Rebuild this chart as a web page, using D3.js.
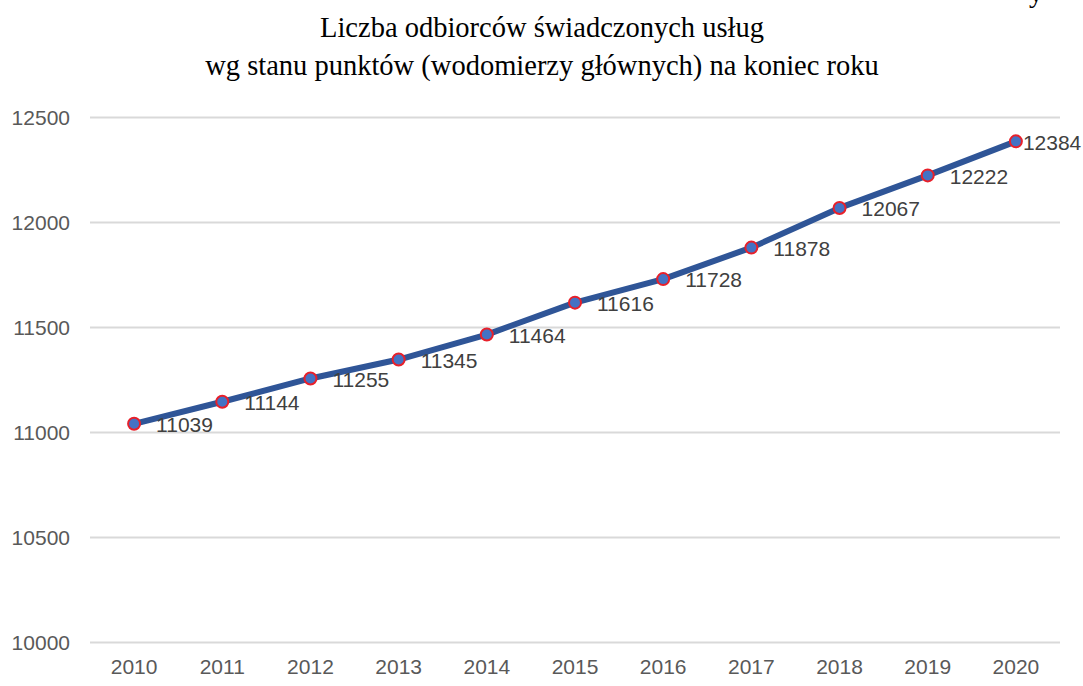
<!DOCTYPE html>
<html><head><meta charset="utf-8">
<script src="https://cdn.jsdelivr.net/npm/d3@7"></script>
<style>html,body{margin:0;padding:0;background:#fff;}</style>
</head><body>
<svg id="chart" width="1083" height="686"></svg>
<script>
const years = ["2010","2011","2012","2013","2014","2015","2016","2017","2018","2019","2020"];
const values = [11039,11144,11255,11345,11464,11616,11728,11878,12067,12222,12384];
const yTicks = [10000,10500,11000,11500,12000,12500];
const titleLines = ["Liczba odbiorców świadczonych usług","wg stanu punktów (wodomierzy głównych) na koniec roku"];

const svg = d3.select("#chart");
const mLeft = 90, mRight = 1060, mTop = 117, mBottom = 642;
const x = d3.scaleBand().domain(years).range([mLeft, mRight]);
const y = d3.scaleLinear().domain([10000, 12500]).range([mBottom, mTop]);
const cx = d => x(d) + x.bandwidth()/2;

svg.append("rect").attr("width",1083).attr("height",686).attr("fill","#fff");

// cut-off fragment at top right (as in the source)
svg.append("text").attr("x",1029).attr("y",2).attr("font-family","Liberation Serif")
  .attr("font-size",28).attr("fill","#000").text("y");

// title
svg.selectAll("text.title").data(titleLines).join("text").attr("class","title")
  .attr("x",542).attr("y",(d,i)=>37 + i*38).attr("text-anchor","middle")
  .attr("font-family","Liberation Serif").attr("font-size",28.5).attr("fill","#000")
  .text(d=>d);

const fs = 21;
// grid + y axis
const yAxis = d3.axisLeft(y).tickValues(yTicks).tickSize(-(mRight-mLeft)).tickPadding(20).tickFormat(d3.format("d"));
const gy = svg.append("g").attr("transform",`translate(${mLeft},0)`).call(yAxis);
gy.select(".domain").remove();
gy.selectAll(".tick line").attr("stroke","#d9d9d9").attr("stroke-width",2);
gy.selectAll(".tick text").attr("font-family","Liberation Sans").attr("font-size",fs)
  .attr("fill","#595959").attr("dy","0.35em");

// x axis
const xAxis = d3.axisBottom(x).tickSize(0).tickPadding(15);
const gx = svg.append("g").attr("transform",`translate(0,${mBottom})`).call(xAxis);
gx.select(".domain").remove();
gx.selectAll(".tick text").attr("font-family","Liberation Sans").attr("font-size",fs)
  .attr("fill","#595959").attr("dy","0.8em");

const data = years.map((yr,i)=>({yr, v: values[i]}));

// line
const line = d3.line().x(d=>cx(d.yr)).y(d=>y(d.v));
svg.append("path").datum(data).attr("d",line).attr("fill","none")
  .attr("stroke","#2F5597").attr("stroke-width",6).attr("stroke-linejoin","round").attr("stroke-linecap","round");

// markers
svg.selectAll("circle.pt").data(data).join("circle").attr("class","pt")
  .attr("cx",d=>cx(d.yr)).attr("cy",d=>y(d.v)).attr("r",6)
  .attr("fill","#4472C4").attr("stroke","#E8202A").attr("stroke-width",2);

// labels
const last = years[years.length-1];
svg.selectAll("text.lbl").data(data).join("text").attr("class","lbl")
  .attr("x",d=>cx(d.yr) + (d.yr===last ? 7 : 22))
  .attr("y",d=>y(d.v) + 1)
  .attr("dy", "0.35em")
  .attr("font-family","Liberation Sans").attr("font-size",fs).attr("fill","#404040")
  .text(d=>d.v);
</script>
</body></html>
